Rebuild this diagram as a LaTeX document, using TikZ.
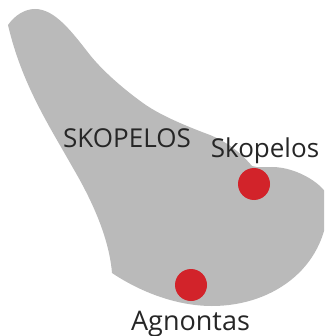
\documentclass[tikz,border=0pt]{standalone}
\usepackage{fontspec}
\setmainfont{Open Sans}
\definecolor{land}{HTML}{BABABA}
\definecolor{pin}{HTML}{D2232A}
\definecolor{ink}{HTML}{262626}
\tikzset{
  island/.style={fill=land,draw=none},
  town/.style={circle,fill=pin,draw=none,minimum size=32pt,inner sep=0pt},
  lbl/.style={text=ink,inner sep=0pt,anchor=base,font=\fontsize{26}{30}\selectfont}
}
\begin{document}
\begin{tikzpicture}[x=1pt,y=-1pt]
\useasboundingbox (0,0) rectangle (324,336);
\clip (0,0) rectangle (324,336);
\path[island] (8,25)
 .. controls (15,15) and (25,9) .. (35,9)
 .. controls (55,9) and (72,32) .. (90,55)
 .. controls (102,70) and (122,88) .. (143,103)
 .. controls (158,114) and (183,125) .. (210,135)
 .. controls (227,142) and (240,152) .. (252,166)
 .. controls (258,168) and (265,167) .. (272,167)
 .. controls (298,167) and (326,186) .. (328,198)
 .. controls (330,265) and (275,306) .. (212,306)
 .. controls (178,306) and (142,293) .. (112,273)
 .. controls (110,248) and (100,214) .. (73,168)
 .. controls (50,127) and (22,85) .. (8,25) -- cycle;
\node[town] (ska) at (254,184) {};
\node[town] (agn) at (191,285) {};
\node[lbl] (isl) at (127,148) {SKOPELOS};
\node[lbl] (skt) at (265,158) {Skopelos};
\node[lbl,font=\fontsize{27}{30}\selectfont] (agt) at (190.5,330) {Agnontas};
\end{tikzpicture}
\end{document}
